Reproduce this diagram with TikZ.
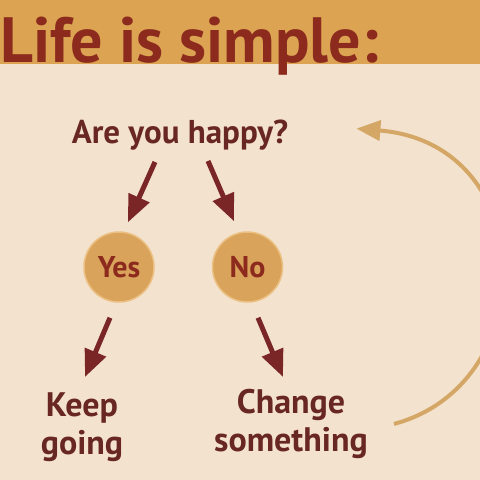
\documentclass[tikz,border=0pt]{standalone}
\usepackage{fontspec}
\setmainfont{PT Sans}
\usetikzlibrary{arrows.meta,calc}
\definecolor{bg}{HTML}{F3E2CE}
\definecolor{band}{HTML}{DBA352}
\definecolor{titlec}{HTML}{8C2B1D}
\definecolor{textc}{HTML}{682723}
\definecolor{arrc}{HTML}{7A2626}
\definecolor{circfill}{HTML}{DAA35B}
\definecolor{circedge}{HTML}{EBC083}
\definecolor{loopc}{HTML}{D5A766}
\tikzset{
  txt/.style={inner sep=0pt, text=textc, font=\bfseries\fontsize{34}{38}\selectfont, align=center},
  bubble/.style={circle, minimum size=70pt, inner sep=0pt, fill=circfill, draw=circedge, line width=1.5pt,
     text=titlec, font=\bfseries\fontsize{30}{34}\selectfont},
  darr/.style={draw=arrc, line width=5pt, -{Triangle[length=27pt,width=22pt]}},
  looparr/.style={draw=loopc, line width=4pt, -{Triangle[length=24pt,width=20pt]}}
}
\begin{document}
\begin{tikzpicture}[x=1pt,y=-1pt]
\useasboundingbox (0,0) rectangle (480,480);
\fill[bg] (0,0) rectangle (480,480);
\fill[band] (0,0) rectangle (480,64);
\node[anchor=base west, inner sep=0pt, text=titlec, font=\bfseries\fontsize{64}{68}\selectfont] (title) at (0,62) {Life is simple:};
\node[txt, font=\bfseries\fontsize{33}{36}\selectfont, anchor=base] (q) at (180,143) {Are you happy?};
\node[bubble] (yes) at (119,267) {Yes};
\node[bubble] (no) at (247.5,267) {No};
\node[txt, anchor=north] (keep) at (82,392) {Keep\\going};
\node[txt, anchor=north] (change) at (291,389) {Change\\something};
\draw[darr] ($(q.south)+(-25,12)$) -- ($(yes.north)+(9,-9)$);
\draw[darr] ($(q.south)+(28,11)$) -- ($(no.north)+(-13.5,-10)$);
\draw[darr] ($(yes.south)+(-9,15)$) -- ($(keep.north)+(3,-15)$);
\draw[darr] ($(no.south)+(10.5,15)$) -- ($(change.north)+(-8,-12)$);
\coordinate (loopA) at ($(change.east)+(26,0)$);
\coordinate (loopB) at ($(q.east)+(68,-6)$);
\draw[looparr] (loopA) .. controls ($(loopA)+(150,-40)$) and ($(loopB)+(185,15)$) .. (loopB);
\end{tikzpicture}
\end{document}
